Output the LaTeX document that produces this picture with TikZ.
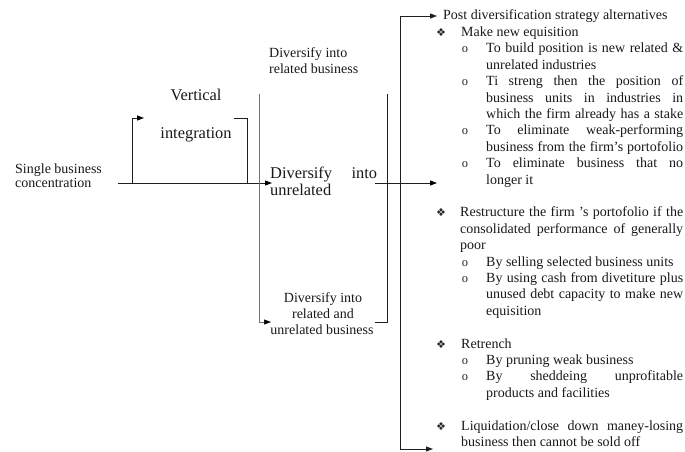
\documentclass[tikz,border=0pt]{standalone}
\usepackage{fontspec}
\setmainfont{Liberation Serif}
\newfontfamily\dingfont{DejaVu Sans}
\usetikzlibrary{arrows.meta}
% a justified line of given width (in pt)
\newcommand\spreadline[2]{\makebox[#1pt][s]{#2}}

\begin{document}
\begin{tikzpicture}[x=1pt,y=-1pt,
  txt/.style={anchor=base west, inner sep=0pt, text=black!90, font=\fontsize{14}{16}\selectfont},
  ctxt/.style={txt, anchor=base},
  bigtxt/.style={txt, font=\fontsize{16.4}{18}\selectfont},
  cbigtxt/.style={bigtxt, anchor=base},
  dingbul/.style={anchor=base, inner sep=0pt, text=black!85, font=\dingfont\fontsize{11}{11}\selectfont},
  subbul/.style={anchor=base, inner sep=0pt, text=black!85, font=\fontsize{12.5}{12}\selectfont},
  conn/.style={line width=0.9pt, draw=black!88},
  faint/.style={line width=0.6pt, draw=black!55},
  tip/.style={-{Triangle[length=7pt,width=5pt,color=black]}},
]
\useasboundingbox[fill=white] (0,0) rectangle (685,452);

% ---- left part: starting point and first moves ----
\node[txt] (single1) at (15,173) {Single business};
\node[txt] (single2) at (15,187) {concentration};

\node[cbigtxt] (vert1) at (196,100) {Vertical};
\node[cbigtxt] (vert2) at (196,138) {integration};

\node[txt] (rel1) at (269,58) {Diversify into};
\node[txt] (rel2) at (269,74) {related business};

\node[bigtxt] (unrel1) at (270,178) {\spreadline{107}{Diversify into}};
\node[bigtxt] (unrel2) at (270,195) {unrelated};

\node[ctxt] (both1) at (323,302) {Diversify into};
\node[ctxt] (both2) at (323,318) {related and};
\node[ctxt] (both3) at (322,334) {unrelated business};

% ---- connector points ----
\coordinate (start) at (118,183);
\coordinate (mainend) at (272,183);
\coordinate (vibase) at (132,183);
\coordinate (vitip) at (144,118);
\coordinate (viright) at (234,118);
\coordinate (vibase2) at (247,183);
\coordinate (dtop) at (259,94);
\coordinate (dtip) at (271,322);
\coordinate (rtop) at (387,94);
\coordinate (rstub) at (375,322);
\coordinate (mid1) at (375,183);
\coordinate (mid2) at (437,183);
\coordinate (ptop) at (437,16);
\coordinate (pcorner) at (400,449);
\coordinate (pbot) at (433,449);

\draw[conn,tip] (start) -- (mainend);
\draw[conn,tip] (vibase) |- (vitip);
\draw[conn] (viright) -| (vibase2);
\draw[faint,tip] (dtop) |- (dtip);
\draw[conn] (rtop) |- (rstub);
\draw[conn,tip] (mid1) -- (mid2);
\draw[conn,{Triangle[length=7pt,width=5pt]}-{Triangle[length=7pt,width=5pt]}] (ptop) -| (pcorner) -- (pbot);

% ---- right part: list of alternatives ----
\node[txt] (title) at (443,20) {Post diversification strategy alternatives};

\node[dingbul] (d1) at (441,36.4) {❖};
\node[txt] (a0) at (461,36.4) {Make new equisition};
\node[subbul] (o1) at (465,52.8) {o};
\node[txt] (a1) at (486,52.8) {\spreadline{197}{To build position is new related \&}};
\node[txt] (a2) at (486,69.2) {unrelated industries};
\node[subbul] (o2) at (465,85.6) {o};
\node[txt] (a3) at (486,85.6) {\spreadline{197}{Ti streng then the position of}};
\node[txt] (a4) at (486,102) {\spreadline{197}{business units in industries in}};
\node[txt] (a5) at (486,118.4) {\spreadline{197}{which the firm already has a stake}};
\node[subbul] (o3) at (465,134.8) {o};
\node[txt] (a6) at (486,134.8) {\spreadline{197}{To eliminate weak-performing}};
\node[txt] (a7) at (486,151.2) {\spreadline{197}{business from the firm's portofolio}};
\node[subbul] (o4) at (465,167.6) {o};
\node[txt] (a8) at (486,167.6) {\spreadline{197}{To eliminate business that no}};
\node[txt] (a9) at (486,184) {longer it};

\node[dingbul] (d2) at (441,216.8) {❖};
\node[txt] (b0) at (460,216.8) {\spreadline{223}{Restructure the firm 's portofolio if the}};
\node[txt] (b1) at (460,233.2) {\spreadline{223}{consolidated performance of generally}};
\node[txt] (b2) at (460,249.6) {poor};
\node[subbul] (o5) at (465,266) {o};
\node[txt] (b3) at (486,266) {By selling selected business units};
\node[subbul] (o6) at (465,282.4) {o};
\node[txt] (b4) at (486,282.4) {\spreadline{197}{By using cash from divetiture plus}};
\node[txt] (b5) at (486,298.8) {\spreadline{197}{unused debt capacity to make new}};
\node[txt] (b6) at (486,315.2) {equisition};

\node[dingbul] (d3) at (441,348) {❖};
\node[txt] (c0) at (461,348) {Retrench};
\node[subbul] (o7) at (465,364.4) {o};
\node[txt] (c1) at (486,364.4) {By pruning weak business};
\node[subbul] (o8) at (465,380.8) {o};
\node[txt] (c2) at (486,380.8) {\spreadline{197}{By sheddeing unprofitable}};
\node[txt] (c3) at (486,397.2) {products and facilities};

\node[dingbul] (d4) at (441,430) {❖};
\node[txt] (e0) at (461,430) {\spreadline{222}{Liquidation/close down maney-losing}};
\node[txt] (e1) at (461,446.4) {business then cannot be sold off};
\end{tikzpicture}
\end{document}
